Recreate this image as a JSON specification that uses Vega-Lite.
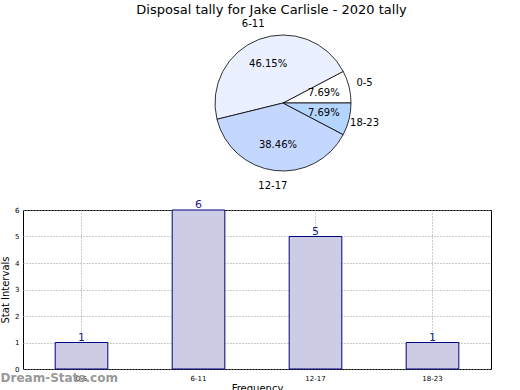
{
  "$schema": "https://vega.github.io/schema/vega-lite/v6.json",
  "padding": {"left": 0, "top": 4, "right": 0, "bottom": 0},
  "config": {"font": "DejaVu Sans", "view": {"stroke": null}},
  "title": {"text": "Disposal tally for Jake Carlisle - 2020 tally", "fontSize": 13, "fontWeight": "normal", "color": "#000000", "anchor": "middle", "offset": 2},
  "spacing": 6,
  "datasets": {
    "tally": [
      {"cat": "0-5", "value": 1, "ord": 1, "pct": "7.69%"},
      {"cat": "6-11", "value": 6, "ord": 2, "pct": "46.15%"},
      {"cat": "12-17", "value": 5, "ord": 3, "pct": "38.46%"},
      {"cat": "18-23", "value": 1, "ord": 4, "pct": "7.69%"}
    ]
  },
  "vconcat": [
    {
      "width": 520,
      "height": 160,
      "data": {"name": "tally"},
      "encoding": {
        "theta": {"field": "value", "type": "quantitative", "stack": true, "scale": {"range": [1.5708, -4.7124]}},
        "order": {"field": "ord", "type": "quantitative"}
      },
      "layer": [
        {
          "mark": {"type": "arc", "outerRadius": 68, "stroke": "#000000", "strokeWidth": 0.8},
          "encoding": {
            "color": {"field": "cat", "type": "nominal", "legend": null,
              "scale": {"domain": ["0-5", "6-11", "12-17", "18-23"], "range": ["#FFFFFF", "#EAF0FF", "#C4D8FF", "#B3D5FF"]}}
          }
        },
        {
          "mark": {"type": "text", "radius": 42, "fontSize": 10, "color": "#000000"},
          "encoding": {"text": {"field": "pct"}}
        },
        {
          "mark": {"type": "text", "radius": 84, "fontSize": 10, "color": "#000000"},
          "encoding": {"text": {"field": "cat"}}
        }
      ]
    },
    {
      "width": 468,
      "height": 159,
      "data": {"name": "tally"},
      "view": {"stroke": "#000000", "strokeWidth": 1},
      "title": {"text": "Dream-Stats.com", "orient": "bottom", "anchor": "start", "fontSize": 12, "fontWeight": "bold", "color": "#999999", "offset": -20, "frame": "bounds"},
      "encoding": {
        "x": {"field": "cat", "type": "nominal", "sort": ["0-5", "6-11", "12-17", "18-23"],
          "scale": {"paddingInner": 0.55, "paddingOuter": 0.275},
          "axis": {"title": "Frequency", "titleFontSize": 10, "titleFontWeight": "normal", "titlePadding": 2, "labelAngle": 0, "labelFontSize": 7, "labelColor": "#000000", "domain": false, "tickSize": 0, "labelPadding": 5, "grid": true, "gridDash": [1, 2], "gridColor": "#999999", "gridWidth": 1}},
        "y": {"field": "value", "type": "quantitative",
          "scale": {"domain": [0, 6], "nice": false},
          "axis": {"title": "Stat Intervals", "titleFontSize": 10, "titleFontWeight": "normal", "titlePadding": 4, "values": [0, 1, 2, 3, 4, 5, 6], "labelFontSize": 7, "labelColor": "#000000", "domain": false, "tickSize": 0, "labelPadding": 4, "grid": true, "gridDash": [1, 2], "gridColor": "#999999", "gridWidth": 1}}
      },
      "layer": [
        {"mark": {"type": "bar", "fill": "#CCCCE5", "stroke": "#000080", "strokeWidth": 1}},
        {"mark": {"type": "text", "dy": -5, "fontSize": 11, "color": "#1A1A8C"}, "encoding": {"text": {"field": "value"}}}
      ]
    }
  ]
}
